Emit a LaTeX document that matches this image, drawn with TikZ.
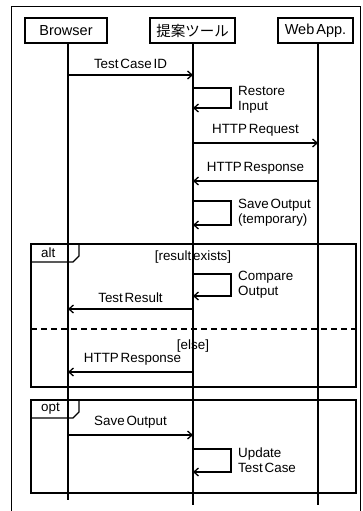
\documentclass[tikz,border=0pt]{standalone}
\usepackage{fontspec}
\setmainfont[WordSpace=0.5]{Liberation Sans}
\newfontfamily\jpfont{Noto Sans CJK JP}
\usetikzlibrary{arrows.meta}
\tikzset{
  actor/.style={draw,line width=1.2pt,minimum width=#1,minimum height=25pt,inner sep=0pt,font=\fontsize{14.5}{16}\selectfont},
  lifeline/.style={line width=1.2pt},
  msg/.style={line width=1.2pt,-{Straight Barb[length=4.5pt,width=8pt,line width=1.3pt]}},
  lbl/.style={inner sep=0pt,font=\fontsize{13.4}{15}\selectfont},
  note/.style={inner sep=0pt,align=left,anchor=west,font=\fontsize{13.4}{15.5}\selectfont},
  fragment/.style={line width=1.4pt},
}
\begin{document}
\begin{tikzpicture}[x=1pt,y=-1pt]
\useasboundingbox (0,0) rectangle (362,511);
\fill[white] (0,0) rectangle (362,511);
% outer frame, open at the bottom
\draw[line width=0.9pt] (11,520) -- (11,6) -- (360,6) -- (360,520);

% participants
\node[actor=82pt] (br) at (66,30.5) {Browser};
\node[actor=85pt] (tl) at (192.5,30.5) {\jpfont 提案ツール};
\node[actor=75pt] (wa) at (315.5,30.5) {Web App.};

% lifelines
\coordinate (brE) at (68,500);
\coordinate (tlE) at (193,505);
\coordinate (waE) at (318,505);
\draw[lifeline] (br.south -| brE) -- (brE);
\draw[lifeline] (tl.south -| tlE) -- (tlE);
\draw[lifeline] (wa.south -| waE) -- (waE);

% message anchors on the lifelines
\coordinate (b1) at (68,75);   \coordinate (t1) at (193,75);
\coordinate (t2a) at (193,88); \coordinate (t2b) at (193,108);
\coordinate (t3) at (193,143); \coordinate (w3) at (318,143);
\coordinate (t4) at (193,181); \coordinate (w4) at (318,181);
\coordinate (t5a) at (193,201);\coordinate (t5b) at (193,225);
\coordinate (t6a) at (193,274);\coordinate (t6b) at (193,296);
\coordinate (t7) at (193,309); \coordinate (b7) at (68,309);
\coordinate (t8) at (193,372); \coordinate (b8) at (68,372);
\coordinate (b9) at (68,435);  \coordinate (t9) at (193,435);
\coordinate (t10a) at (193,449);\coordinate (t10b) at (193,472);

% messages
\draw[msg] (b1) -- node[lbl,above=6pt] {Test Case ID} (t1);
\draw[msg] (t2a) -- ++(38,0) |- (t2b);
\node[note] (n2) at (238,100) {Restore\\Input};
\draw[msg] (t3) -- node[lbl,above=6pt] {HTTP Request} (w3);
\draw[msg] (w4) -- node[lbl,above=6pt] {HTTP Response} (t4);
\draw[msg] (t5a) -- ++(38,0) |- (t5b);
\node[note] (n5) at (238,212.5) {Save Output\\(temporary)};

% alt fragment
\draw[fragment] (31,244) rectangle (356,387);
\draw[fragment] (31,262) -- (73,262) -- (79,256) -- (79,244);
\node[lbl,anchor=west] (alt) at (41,252.5) {alt};
\node[lbl] (g1) at (193,257) {[result exists]};
\draw[msg] (t6a) -- ++(38,0) |- (t6b);
\node[note] (n6) at (238,284.5) {Compare\\Output};
\draw[msg] (t7) -- node[lbl,above=6pt] {Test Result} (b7);
\draw[fragment,dashed,dash pattern=on 6pt off 4pt] (31,329) -- (356,329);
\node[lbl] (g2) at (193,346) {[else]};
\draw[msg] (t8) -- node[lbl,above=6pt,xshift=2pt] {HTTP Response} (b8);

% opt fragment
\draw[fragment] (31,400) rectangle (356,493);
\draw[fragment] (31,418) -- (73,418) -- (79,412) -- (79,400);
\node[lbl,anchor=west] (opt) at (41,408.5) {opt};
\draw[msg] (b9) -- node[lbl,above=6pt] {Save Output} (t9);
\draw[msg] (t10a) -- ++(38,0) |- (t10b);
\node[note] (n10) at (238,460) {Update\\Test Case};
\end{tikzpicture}
\end{document}
